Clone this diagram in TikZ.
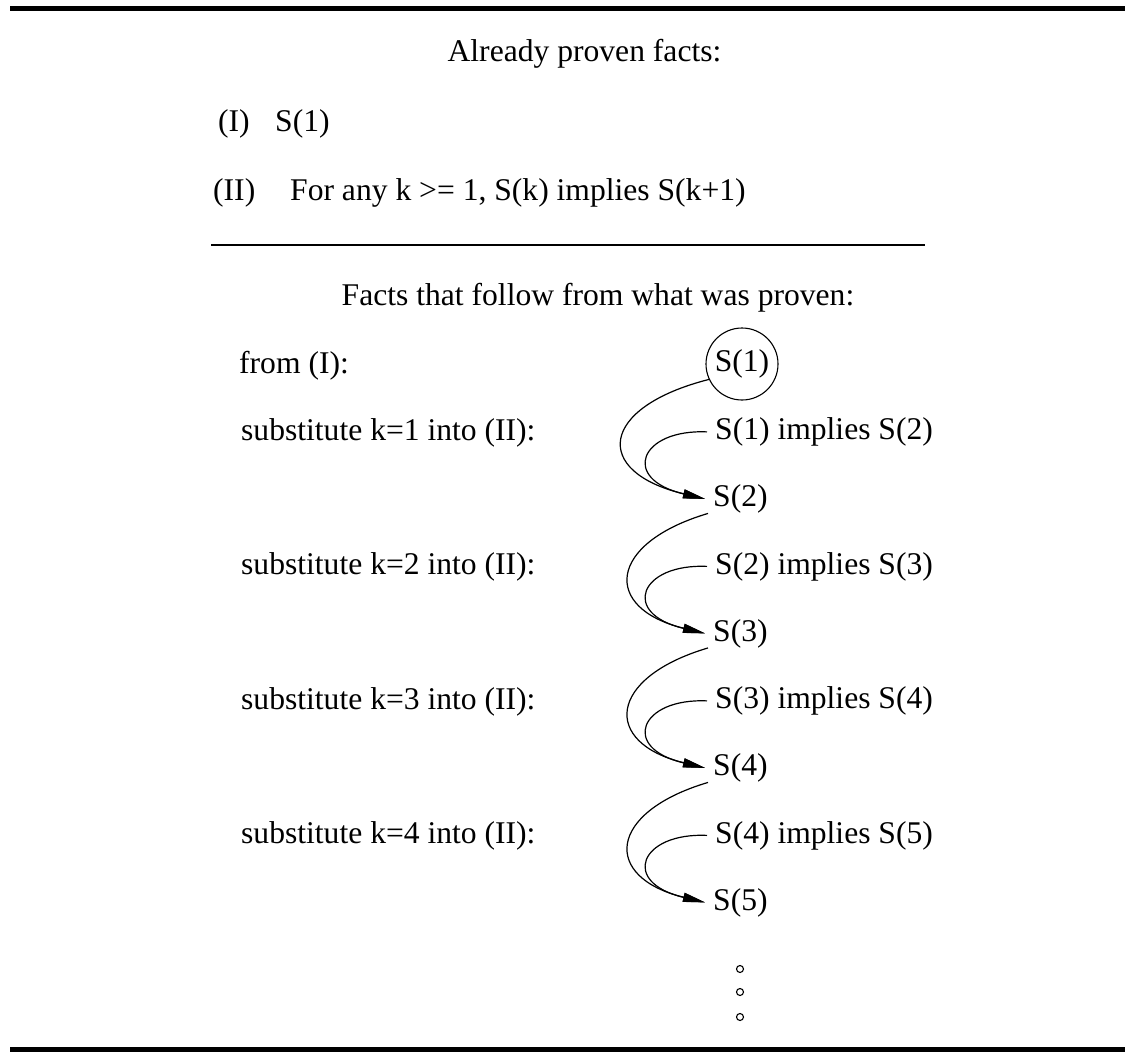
\documentclass[tikz,border=0pt]{standalone}
\usepackage{fontspec}
\setmainfont{Liberation Serif}
\usetikzlibrary{arrows.meta}
\tikzset{
  txt/.style={anchor=base west, inner sep=0pt},
  fact/.style={anchor=base west, inner sep=0pt},
  arr/.style={line width=1.2pt, -{Triangle[length=22pt,width=9pt]}},
  bar/.style={line width=5pt},
  rule/.style={line width=1.6pt},
  dot/.style={circle, draw, line width=1.1pt, minimum size=7pt, inner sep=0pt},
}
\begin{document}
\begin{tikzpicture}[x=1pt,y=-1pt,font=\fontsize{31.6}{38}\selectfont]
\useasboundingbox (0,0) rectangle (1130,1057);
% bars
\coordinate (tl) at (10,8.5);
\coordinate (tr) at (1125,8.5);
\coordinate (bl) at (10,1049.5);
\coordinate (br) at (1125,1049.5);
\draw[bar] (tl) -- (tr);
\draw[bar] (bl) -- (br);
% header
\node[anchor=base, inner sep=0pt] (h1) at (584.5,62) {Already proven facts:};
\node[txt] (p1a) at (218,131) {(I)};
\node[txt] (p1b) at (275,131) {S(1)};
\node[txt] (p2a) at (213,200) {(II)};
\node[txt] (p2b) at (290,200) {For any k >= 1, S(k) implies S(k+1)};
\coordinate (ml) at (211,245);
\coordinate (mr) at (925,245);
\draw[rule] (ml) -- (mr);
\node[anchor=base, inner sep=0pt] (h2) at (598,305) {Facts that follow from what was proven:};
% left labels
\node[txt] (l0) at (239,373) {from (I):};
\node[txt] (l1) at (241,440) {substitute k=1 into (II):};
\node[txt] (l2) at (241,574.5) {substitute k=2 into (II):};
\node[txt] (l3) at (241,709) {substitute k=3 into (II):};
\node[txt] (l4) at (241,843.5) {substitute k=4 into (II):};
% S nodes
\node[circle, draw, line width=1.1pt, minimum size=72pt, inner sep=0pt] (s1) at (742,364) {S(1)};
\node[fact] (s2) at (713,506.5) {S(2)};
\node[fact] (s3) at (713,641) {S(3)};
\node[fact] (s4) at (713,775.5) {S(4)};
\node[fact] (s5) at (713,910) {S(5)};
% implies nodes
\node[fact] (i1) at (715,439.5) {S(1) implies S(2)};
\node[fact] (i2) at (715,574) {S(2) implies S(3)};
\node[fact] (i3) at (715,708.5) {S(3) implies S(4)};
\node[fact] (i4) at (715,843) {S(4) implies S(5)};
% outer arrows
\draw[arr] (s1.205) .. controls +(-110,28) and +(-113,-27) .. ([xshift=-8pt]s2.west);
\draw[arr] ([xshift=-5pt]s2.south west) .. controls +(-101,30) and +(-103,-25) .. ([xshift=-8pt]s3.west);
\draw[arr] ([xshift=-5pt]s3.south west) .. controls +(-101,30) and +(-103,-25) .. ([xshift=-8pt]s4.west);
\draw[arr] ([xshift=-5pt]s4.south west) .. controls +(-101,30) and +(-103,-25) .. ([xshift=-8pt]s5.west);
% inner arrows
\draw[arr] ([xshift=-8pt]i1.west) .. controls +(-67,-3) and +(-85,-20) .. ([xshift=-8pt]s2.west);
\draw[arr] ([xshift=-8pt]i2.west) .. controls +(-67,-3) and +(-85,-20) .. ([xshift=-8pt]s3.west);
\draw[arr] ([xshift=-8pt]i3.west) .. controls +(-67,-3) and +(-85,-20) .. ([xshift=-8pt]s4.west);
\draw[arr] ([xshift=-8pt]i4.west) .. controls +(-67,-3) and +(-85,-20) .. ([xshift=-8pt]s5.west);
% continuation dots
\node[dot] (d1) at (740,969) {};
\node[dot] (d2) at (740,992) {};
\node[dot] (d3) at (740,1017) {};
\end{tikzpicture}
\end{document}
